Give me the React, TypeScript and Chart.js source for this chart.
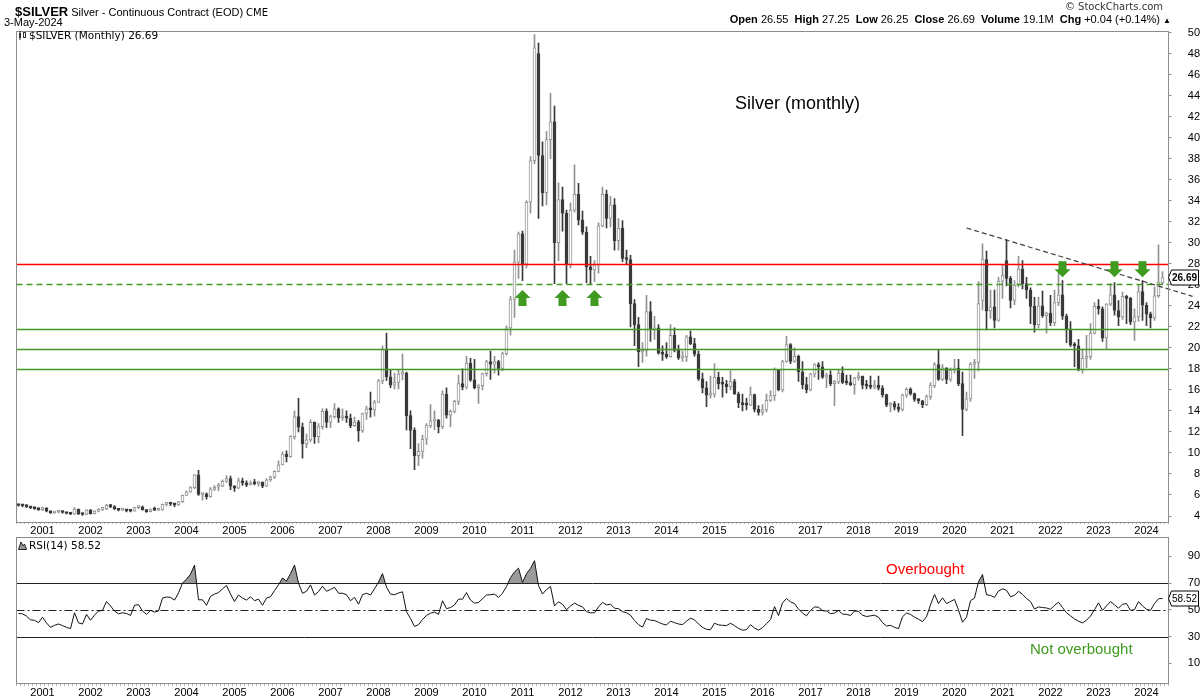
import React, { useEffect, useRef } from 'react';
import { Chart, registerables } from 'chart.js';

Chart.register(...registerables);

// ---------- monthly candles, Jul 2000 .. May 2024 ----------
const opens = [
  5.03, 5.0, 4.98, 4.9, 4.76, 4.7,
  4.6, 4.76, 4.45, 4.3, 4.38, 4.42, 4.33, 4.24, 4.18, 4.66, 4.18, 4.14,
  4.58, 4.23, 4.47, 4.63, 4.65, 5.03, 4.9, 4.7, 4.55, 4.58, 4.5, 4.45,
  4.79, 4.88, 4.6, 4.42, 4.62, 4.55, 4.58, 5.1, 5.15, 5.14, 5.06, 5.36,
  5.96, 6.3, 6.7, 7.92, 6.05, 6.1, 5.85, 6.55, 6.75, 6.85, 7.3, 7.55,
  6.85, 6.65, 7.35, 7.15, 6.95, 7.15, 7.05, 7.2, 6.85, 7.45, 7.7, 8.25,
  8.85, 9.9, 9.65, 11.55, 13.45, 12.45, 10.85, 11.25, 12.9, 11.55, 12.5, 13.95,
  12.9, 13.45, 14.2, 13.35, 13.5, 13.3, 12.6, 12.95, 12.1, 13.75, 14.2, 14.1,
  14.8, 16.85, 19.85, 17.25, 16.45, 16.7, 17.5, 17.6, 13.55, 12.15, 9.75, 10.15,
  11.3, 12.6, 13.05, 13.1, 12.5, 15.6, 13.6, 13.95, 14.9, 16.6, 16.25, 18.55,
  16.95, 16.2, 16.4, 17.55, 18.7, 18.45, 18.7, 18.05, 19.45, 21.9, 24.6, 28.15,
  30.85, 27.95, 33.85, 37.8, 48.0, 38.3, 34.75, 39.8, 41.5, 30.0, 34.1, 32.8,
  27.9, 33.1, 34.6, 32.15, 31.0, 27.7, 27.4, 27.9, 31.6, 34.6, 32.3, 33.6,
  30.2, 31.4, 28.5, 28.4, 24.2, 22.2, 19.6, 19.75, 23.45, 21.7, 21.9, 19.5,
  19.4, 19.15, 21.2, 19.75, 19.05, 19.15, 21.05, 20.4, 19.4, 17.05, 16.2, 15.5,
  15.6, 17.2, 16.6, 16.55, 16.3, 16.8, 15.6, 14.75, 14.6, 14.55, 15.55, 14.15,
  13.85, 14.1, 15.0, 15.45, 17.95, 16.0, 18.7, 20.3, 18.7, 19.2, 17.7, 16.5,
  16.0, 17.5, 18.4, 18.2, 17.2, 17.4, 16.6, 16.75, 17.6, 16.7, 16.68, 16.5,
  17.15, 17.3, 16.45, 16.35, 16.25, 16.45, 16.15, 15.55, 14.55, 14.7, 14.35, 14.15,
  15.5, 16.05, 15.65, 15.1, 14.95, 14.6, 15.35, 16.4, 18.4, 17.0, 18.1, 17.0,
  17.9, 18.05, 16.6, 14.15, 15.15, 18.45, 18.6, 24.5, 28.4, 23.5, 23.9, 22.6,
  26.35, 28.3, 26.6, 24.5, 25.95, 27.5, 26.1, 25.5, 23.95, 22.2, 24.0, 23.05,
  23.3, 22.4, 24.3, 25.05, 23.0, 21.75, 20.3, 20.2, 17.9, 19.0, 19.15, 21.4,
  23.95, 23.7, 20.95, 24.15, 25.05, 23.55, 22.95, 24.9, 24.7, 22.45, 22.95, 25.35,
  24.05, 23.2, 22.85, 24.95, 26.2,
];

const highs = [
  5.1, 5.05, 5.05, 4.95, 4.8, 4.75,
  4.85, 4.8, 4.5, 4.45, 4.55, 4.5, 4.35, 4.3, 4.8, 4.67, 4.28, 4.62,
  4.6, 4.52, 4.7, 4.68, 5.1, 5.12, 5.0, 4.72, 4.7, 4.6, 4.62, 4.84,
  4.98, 4.95, 4.62, 4.68, 4.85, 4.7, 5.15, 5.28, 5.3, 5.2, 5.4, 6.0,
  6.4, 6.8, 7.95, 8.35, 6.2, 6.2, 6.7, 6.9, 7.1, 7.45, 7.85, 7.8,
  6.9, 7.6, 7.6, 7.35, 7.35, 7.5, 7.3, 7.25, 7.55, 7.8, 8.3, 9.25,
  10.1, 10.2, 11.65, 14.0, 15.2, 12.85, 11.8, 13.15, 12.95, 12.8, 14.2, 14.2,
  13.6, 14.7, 14.3, 14.2, 14.0, 13.7, 13.4, 13.1, 13.8, 14.45, 15.8, 15.0,
  17.0, 20.2, 21.4, 17.9, 17.6, 17.9, 19.4, 17.7, 14.0, 12.4, 10.9, 11.7,
  12.8, 14.6, 14.0, 13.2, 15.9, 16.2, 14.1, 15.0, 17.4, 18.0, 19.2, 19.0,
  18.9, 16.5, 17.6, 18.8, 19.7, 19.2, 18.8, 19.6, 22.1, 24.9, 29.3, 31.0,
  31.1, 34.0, 38.2, 49.8, 49.0, 39.6, 40.6, 44.2, 43.0, 35.7, 35.3, 33.1,
  33.8, 37.4, 35.65, 33.0, 31.5, 28.7, 28.3, 31.9, 35.3, 35.0, 34.4, 34.2,
  32.3, 32.1, 29.3, 28.8, 24.6, 22.9, 20.5, 25.0, 24.4, 23.0, 22.2, 20.2,
  20.5, 22.2, 21.9, 20.25, 19.7, 21.2, 21.6, 20.9, 19.7, 17.6, 16.8, 17.3,
  18.5, 17.7, 17.2, 16.9, 17.8, 17.0, 15.8, 15.6, 15.2, 16.3, 15.6, 14.5,
  14.6, 15.6, 15.9, 18.1, 17.95, 18.8, 21.1, 20.4, 20.0, 19.3, 18.7, 17.2,
  17.6, 18.5, 18.6, 18.7, 17.6, 17.8, 16.9, 17.9, 18.2, 17.4, 17.4, 17.2,
  17.7, 17.3, 16.9, 17.3, 16.9, 17.3, 16.4, 15.6, 14.8, 14.9, 14.7, 15.6,
  16.2, 16.2, 15.7, 15.2, 15.0, 15.5, 16.7, 18.6, 19.75, 18.4, 18.1, 18.1,
  18.9, 18.9, 17.7, 15.8, 18.6, 18.9, 26.3, 29.9, 29.2, 25.5, 25.5, 26.7,
  27.9, 30.3, 26.8, 26.4, 28.7, 28.3, 26.7, 25.7, 24.8, 24.8, 25.4, 23.4,
  25.0, 25.5, 27.4, 26.4, 23.2, 22.5, 20.5, 20.8, 19.9, 21.2, 22.3, 24.3,
  24.6, 23.9, 24.2, 26.1, 26.2, 24.5, 25.3, 25.0, 24.8, 23.7, 26.0, 26.4,
  24.3, 23.4, 25.8, 29.8, 27.25,
];

const lows = [
  4.94, 4.87, 4.8, 4.7, 4.63, 4.54,
  4.5, 4.4, 4.25, 4.25, 4.3, 4.28, 4.2, 4.12, 4.16, 4.15, 4.06, 4.12,
  4.18, 4.2, 4.4, 4.5, 4.6, 4.8, 4.6, 4.48, 4.5, 4.4, 4.38, 4.45,
  4.7, 4.55, 4.35, 4.4, 4.5, 4.5, 4.55, 4.95, 4.98, 4.9, 5.0, 5.3,
  5.95, 6.25, 6.6, 5.95, 5.5, 5.6, 5.8, 6.4, 6.4, 6.8, 7.2, 6.5,
  6.35, 6.6, 6.9, 6.8, 6.95, 6.95, 6.85, 6.7, 6.8, 7.3, 7.55, 8.2,
  8.85, 9.15, 9.6, 11.3, 12.0, 9.5, 10.5, 11.05, 10.9, 10.95, 12.25, 12.4,
  12.4, 13.3, 12.9, 13.1, 12.9, 12.4, 12.5, 11.1, 11.95, 13.2, 13.4, 13.5,
  14.8, 16.6, 16.9, 16.2, 16.1, 16.1, 16.95, 12.2, 10.4, 8.4, 8.8, 9.5,
  10.8, 12.4, 12.2, 11.9, 12.3, 13.3, 12.5, 13.8, 14.6, 16.0, 16.1, 16.8,
  16.1, 14.7, 16.0, 17.3, 17.0, 17.6, 17.4, 17.8, 19.3, 21.2, 22.9, 26.6,
  26.4, 27.6, 32.8, 37.5, 32.3, 33.5, 33.6, 38.0, 26.1, 28.3, 31.1, 26.1,
  27.6, 32.9, 31.7, 30.8, 26.2, 26.1, 26.3, 27.1, 31.5, 31.4, 31.5, 29.3,
  29.3, 28.2, 28.0, 22.0, 20.2, 18.2, 18.6, 19.2, 20.6, 20.8, 19.4, 18.8,
  19.0, 19.1, 19.6, 18.9, 18.7, 18.7, 20.3, 19.2, 16.9, 15.7, 14.4, 15.2,
  15.3, 16.1, 15.3, 15.7, 16.0, 15.6, 14.3, 14.0, 14.1, 14.5, 13.9, 13.6,
  13.6, 13.9, 14.9, 15.0, 15.9, 15.8, 18.6, 18.5, 18.6, 16.8, 16.1, 15.7,
  15.9, 17.2, 17.0, 17.1, 16.2, 16.4, 14.5, 16.6, 16.6, 16.5, 16.4, 15.6,
  16.9, 16.1, 16.1, 16.1, 16.1, 16.0, 15.3, 14.4, 13.9, 14.1, 13.9, 14.0,
  15.3, 15.5, 14.9, 14.7, 14.3, 14.5, 15.1, 16.2, 16.9, 16.9, 16.6, 16.8,
  17.6, 16.4, 11.65, 14.0, 14.9, 17.1, 17.8, 23.6, 21.7, 22.8, 21.9, 22.5,
  24.7, 25.9, 23.8, 24.1, 25.8, 25.6, 24.7, 22.3, 21.5, 21.9, 22.9, 21.4,
  22.1, 22.1, 24.0, 22.7, 20.5, 20.1, 18.2, 17.8, 17.6, 18.1, 18.9, 21.3,
  23.2, 20.6, 19.9, 24.0, 23.1, 22.1, 22.7, 22.3, 22.2, 20.7, 22.5, 22.6,
  22.1, 21.9, 22.6, 24.8, 26.0,
];

const closes = [
  5.0, 4.98, 4.9, 4.76, 4.7, 4.6,
  4.76, 4.45, 4.3, 4.38, 4.42, 4.33, 4.24, 4.18, 4.66, 4.18, 4.14, 4.58,
  4.23, 4.47, 4.63, 4.65, 5.03, 4.9, 4.7, 4.55, 4.58, 4.5, 4.45, 4.79,
  4.88, 4.6, 4.42, 4.62, 4.55, 4.58, 5.1, 5.15, 5.14, 5.06, 5.36, 5.96,
  6.3, 6.7, 7.92, 6.05, 6.1, 5.85, 6.55, 6.75, 6.85, 7.3, 7.55, 6.85,
  6.65, 7.35, 7.15, 6.95, 7.15, 7.05, 7.2, 6.85, 7.45, 7.7, 8.25, 8.85,
  9.9, 9.65, 11.55, 13.45, 12.45, 10.85, 11.25, 12.9, 11.55, 12.5, 13.95, 12.9,
  13.45, 14.2, 13.35, 13.5, 13.3, 12.6, 12.95, 12.1, 13.75, 14.2, 14.1, 14.8,
  16.85, 19.85, 17.25, 16.45, 16.7, 17.5, 17.6, 13.55, 12.15, 9.75, 10.15, 11.3,
  12.6, 13.05, 13.1, 12.5, 15.6, 13.6, 13.95, 14.9, 16.6, 16.25, 18.55, 16.95,
  16.2, 16.4, 17.55, 18.7, 18.45, 18.7, 18.05, 19.45, 21.9, 24.6, 28.15, 30.85,
  27.95, 33.85, 37.8, 48.55, 38.3, 34.75, 39.8, 41.5, 30.0, 34.1, 32.8, 27.9,
  33.1, 34.6, 32.15, 31.0, 27.7, 27.4, 27.9, 31.6, 34.6, 32.3, 33.6, 30.2,
  31.4, 28.5, 28.4, 24.2, 22.2, 19.6, 19.75, 23.45, 21.7, 21.9, 19.5, 19.4,
  19.15, 21.2, 19.75, 19.05, 19.15, 21.05, 20.4, 19.4, 17.05, 16.2, 15.5, 15.6,
  17.2, 16.6, 16.55, 16.3, 16.8, 15.6, 14.75, 14.6, 14.55, 15.55, 14.15, 13.85,
  14.1, 15.0, 15.45, 17.95, 16.0, 18.7, 20.3, 18.7, 19.2, 17.7, 16.5, 16.0,
  17.5, 18.4, 18.2, 17.2, 17.4, 16.6, 16.75, 17.6, 16.7, 16.68, 16.5, 17.15,
  17.3, 16.45, 16.35, 16.25, 16.45, 16.15, 15.55, 14.55, 14.7, 14.35, 14.15, 15.5,
  16.05, 15.65, 15.1, 14.95, 14.6, 15.35, 16.4, 18.4, 17.0, 18.1, 17.0, 17.9,
  18.05, 16.6, 14.15, 15.15, 18.45, 18.6, 24.2, 28.45, 23.5, 23.9, 22.6, 26.35,
  26.9, 26.6, 24.5, 25.95, 27.5, 26.1, 25.5, 23.95, 22.2, 24.0, 23.05, 23.3,
  22.4, 24.3, 25.05, 23.0, 21.75, 20.3, 20.2, 17.9, 19.0, 19.15, 21.4, 23.95,
  23.7, 20.95, 24.15, 25.05, 23.55, 22.95, 24.9, 24.7, 22.45, 22.95, 25.35, 24.05,
  23.2, 22.85, 24.95, 26.2, 26.69,
];

// ---------- RSI(14), one value per month ----------
const rsiValues = [
  47.3, 47.0, 45.3, 42.5, 42.2, 40.4,
  44.5, 40.2, 36.9, 38.4, 39.4, 38.2, 36.9, 35.9, 47.8, 40.2, 39.4, 46.6,
  42.2, 46.0, 49.1, 49.6, 56.2, 52.9, 49.1, 47.0, 47.8, 47.3, 45.8, 53.4,
  53.9, 49.1, 46.6, 49.6, 48.3, 49.1, 58.8, 59.6, 59.3, 57.3, 62.6, 70.0,
  73.0, 76.6, 83.5, 57.5, 57.5, 53.4, 60.1, 61.8, 62.9, 65.7, 68.2, 61.8,
  56.2, 61.1, 58.8, 57.3, 59.8, 56.8, 58.0, 53.4, 58.8, 59.8, 64.4, 68.7,
  73.8, 71.5, 77.1, 83.5, 70.0, 62.4, 63.9, 68.7, 61.1, 63.6, 67.7, 63.9,
  65.2, 66.9, 62.4, 62.4, 61.3, 56.8, 59.3, 54.2, 61.3, 62.4, 61.1, 65.7,
  70.8, 77.1, 66.9, 61.8, 61.3, 62.6, 63.5, 48.6, 43.5, 37.6, 38.9, 42.7,
  45.8, 47.5, 48.3, 46.6, 56.8, 50.9, 51.7, 53.7, 58.0, 58.0, 62.9, 57.3,
  55.0, 55.5, 58.3, 61.1, 61.3, 61.8, 59.3, 62.4, 67.5, 74.1, 78.4, 81.2,
  70.5, 77.1, 81.0, 86.8, 68.2, 61.8, 65.2, 67.5, 52.9, 56.0, 54.2, 50.1,
  52.9, 55.0, 53.4, 52.2, 48.6, 47.8, 47.8, 52.2, 55.5, 53.7, 54.2, 51.2,
  50.9, 48.6, 47.8, 46.0, 42.0, 38.9, 37.1, 43.5, 42.2, 42.0, 40.7, 39.4,
  38.7, 41.5, 40.4, 39.4, 38.9, 41.5, 43.8, 42.5, 39.4, 36.9, 35.4, 35.1,
  40.0, 38.7, 38.4, 38.2, 40.0, 38.2, 36.1, 34.8, 35.1, 38.9, 36.4, 34.8,
  36.6, 39.7, 42.7, 52.4, 45.8, 55.2, 58.5, 56.0, 54.7, 50.6, 47.6, 45.5,
  49.6, 52.2, 51.9, 49.4, 49.1, 47.1, 47.6, 49.6, 46.8, 46.6, 45.8, 49.1,
  48.9, 46.0, 45.0, 45.5, 46.0, 44.5, 40.4, 37.9, 38.4, 36.9, 35.9, 44.8,
  47.6, 46.6, 44.5, 43.0, 41.2, 44.8, 53.7, 61.6, 54.7, 59.0, 54.7, 56.2,
  57.8, 49.9, 40.7, 44.5, 56.8, 58.8, 71.0, 76.4, 61.3, 60.8, 59.3, 64.1,
  65.7, 64.6, 59.8, 60.8, 63.9, 61.6, 58.5, 56.2, 50.6, 52.2, 51.7, 51.4,
  50.4, 53.4, 55.7, 51.7, 47.8, 45.5, 43.2, 41.5, 40.2, 42.2, 45.3, 50.1,
  55.2, 49.6, 52.9, 56.2, 53.7, 51.2, 54.2, 54.7, 49.6, 50.1, 56.2, 52.9,
  50.4, 49.6, 54.7, 58.3, 58.52,
];

// ---------- axes / annotation values ----------
const priceTicks = [4, 6, 8, 10, 12, 14, 16, 18, 20, 22, 24, 26, 28, 30, 32, 34, 36, 38, 40, 42, 44, 46, 48, 50];
const rsiTicks = [10, 30, 50, 70, 90];
const redLevel = 28;
const greenDashedLevel = 26.05;
const greenLevels = [21.8, 19.9, 18.0];
const trendStart = [237, 31.4];
const trendEnd = [293.5, 24.9];
const upArrowMonths = [126, 136, 144];
const upArrowTip = 25.5;
const downArrowMonths = [261, 274, 281];
const downArrowTip = 26.72;
const rsiOverbought = 70;
const rsiMid = 50;
const rsiOversold = 30;

const START_YEAR = 2000;
const START_MONTH = 6; // July, zero based

const monthLabels: string[] = closes.map((_, k) => {
  const t = START_MONTH + k;
  return `${START_YEAR + Math.floor(t / 12)}-${String((t % 12) + 1).padStart(2, '0')}`;
});
monthLabels.push('pad');

const FONT = '"Liberation Sans", Arial, sans-serif';
const VFONT = '"DejaVu Sans", Verdana, sans-serif';
const UP_EDGE = '#939393';
const DOWN_FILL = '#3a3a3a';
const GREEN = '#3f9a1f';
const BORDER = '#8c8c8c';

const isUp = closes.map((c, k) => c >= opens[k]);

function xAxis(h: number) {
  return {
    type: 'category' as const,
    offset: true,
    grid: { display: true, drawOnChartArea: false, drawTicks: true, tickLength: 2, color: '#b4b4b4', offset: true },
    border: { display: false },
    ticks: {
      autoSkip: false,
      maxRotation: 0,
      minRotation: 0,
      padding: 0,
      color: '#000',
      font: { size: 11, family: FONT },
      callback: (_v: any, i: number) => {
        const l = monthLabels[i];
        return l && l.endsWith('-01') ? l.slice(0, 4) : '';
      },
    },
    afterFit: (s: any) => {
      s.height = h;
      s.paddingLeft = 0;
      s.paddingRight = 0;
    },
  };
}

function yAxis(min: number, max: number, tickVals: number[]) {
  return {
    type: 'linear' as const,
    position: 'right' as const,
    min,
    max,
    afterBuildTicks: (s: any) => {
      s.ticks = tickVals.map((v) => ({ value: v }));
    },
    afterFit: (s: any) => {
      s.width = 31.5;
      s.paddingTop = 0;
      s.paddingBottom = 0;
    },
    grid: { display: true, drawOnChartArea: false, drawTicks: true, tickLength: 3, color: BORDER },
    border: { display: false },
    ticks: {
      padding: 1,
      crossAlign: 'far' as const,
      color: '#000',
      font: { size: 11, family: FONT },
      callback: (v: any) => String(v),
    },
  };
}

function drawCallout(ctx: CanvasRenderingContext2D, left: number, py: number, text: string, bold: boolean) {
  const h = 7.5;
  const x0 = left;
  const right = 1198.5;
  const cy = Math.round(py) + 0.5;
  ctx.save();
  ctx.setLineDash([]);
  ctx.beginPath();
  ctx.moveTo(x0, cy);
  ctx.lineTo(x0 + 3, cy - h);
  ctx.lineTo(right, cy - h);
  ctx.lineTo(right, cy + h);
  ctx.lineTo(x0 + 3, cy + h);
  ctx.closePath();
  ctx.fillStyle = '#fff';
  ctx.fill();
  ctx.strokeStyle = '#000';
  ctx.lineWidth = 1;
  ctx.stroke();
  ctx.fillStyle = '#000';
  ctx.font = `${bold ? 'bold ' : ''}10px ${FONT}`;
  ctx.textAlign = 'right';
  ctx.textBaseline = 'middle';
  ctx.fillText(text, right - 1.5, cy + 0.5);
  ctx.restore();
}

const mainOverlay = {
  id: 'mainOverlay',
  afterDatasetsDraw(chart: any) {
    const { ctx, chartArea: a, scales } = chart;
    const x = scales.x;
    const y = scales.y;
    ctx.save();
    const hline = (v: number, color: string, dash: number[], w: number) => {
      const py = Math.round(y.getPixelForValue(v)) + 0.5;
      ctx.beginPath();
      ctx.setLineDash(dash);
      ctx.strokeStyle = color;
      ctx.lineWidth = w;
      ctx.moveTo(a.left, py);
      ctx.lineTo(a.right, py);
      ctx.stroke();
    };
    greenLevels.forEach((v) => hline(v, GREEN, [], 1.5));
    hline(greenDashedLevel, GREEN, [6, 4], 1.5);
    hline(redLevel, '#ff0000', [], 1.5);

    // trend line
    ctx.beginPath();
    ctx.setLineDash([5, 3]);
    ctx.strokeStyle = '#404040';
    ctx.lineWidth = 1.2;
    ctx.moveTo(x.getPixelForValue(trendStart[0]), y.getPixelForValue(trendStart[1]));
    ctx.lineTo(x.getPixelForValue(trendEnd[0]), y.getPixelForValue(trendEnd[1]));
    ctx.stroke();
    ctx.setLineDash([]);

    // arrows
    ctx.fillStyle = GREEN;
    upArrowMonths.forEach((m) => {
      const cx = x.getPixelForValue(m);
      const ty = y.getPixelForValue(upArrowTip);
      ctx.beginPath();
      ctx.moveTo(cx, ty);
      ctx.lineTo(cx + 8, ty + 8);
      ctx.lineTo(cx + 4, ty + 8);
      ctx.lineTo(cx + 4, ty + 16);
      ctx.lineTo(cx - 4, ty + 16);
      ctx.lineTo(cx - 4, ty + 8);
      ctx.lineTo(cx - 8, ty + 8);
      ctx.closePath();
      ctx.fill();
    });
    downArrowMonths.forEach((m) => {
      const cx = x.getPixelForValue(m);
      const ty = y.getPixelForValue(downArrowTip);
      ctx.beginPath();
      ctx.moveTo(cx, ty);
      ctx.lineTo(cx + 8, ty - 8);
      ctx.lineTo(cx + 4, ty - 8);
      ctx.lineTo(cx + 4, ty - 16);
      ctx.lineTo(cx - 4, ty - 16);
      ctx.lineTo(cx - 4, ty - 8);
      ctx.lineTo(cx - 8, ty - 8);
      ctx.closePath();
      ctx.fill();
    });
    ctx.restore();
  },
  afterDraw(chart: any) {
    const { ctx, chartArea: a, scales } = chart;
    ctx.save();
    ctx.strokeStyle = BORDER;
    ctx.lineWidth = 1;
    ctx.setLineDash([]);
    ctx.strokeRect(Math.floor(a.left) + 0.5, Math.floor(a.top) + 0.5, Math.round(a.right - a.left), Math.round(a.bottom - a.top));
    ctx.restore();
    const last = closes[closes.length - 1];
    drawCallout(ctx, Math.floor(a.right) + 0.5, scales.y.getPixelForValue(last), last.toFixed(2), true);
  },
};

const rsiOverlay = {
  id: 'rsiOverlay',
  beforeDatasetsDraw(chart: any) {
    const { ctx, chartArea: a, scales } = chart;
    const y = scales.y;
    ctx.save();
    ctx.strokeStyle = '#222';
    ctx.lineWidth = 1;
    [rsiOverbought, rsiOversold].forEach((v) => {
      const py = Math.round(y.getPixelForValue(v)) + 0.5;
      ctx.beginPath();
      ctx.setLineDash([]);
      ctx.moveTo(a.left, py);
      ctx.lineTo(a.right, py);
      ctx.stroke();
    });
    const pm = Math.round(y.getPixelForValue(rsiMid)) + 0.5;
    ctx.beginPath();
    ctx.setLineDash([8, 3, 2, 3]);
    ctx.moveTo(a.left, pm);
    ctx.lineTo(a.right, pm);
    ctx.stroke();
    ctx.restore();
  },
  afterDraw(chart: any) {
    const { ctx, chartArea: a, scales } = chart;
    ctx.save();
    ctx.strokeStyle = BORDER;
    ctx.lineWidth = 1;
    ctx.setLineDash([]);
    ctx.strokeRect(Math.floor(a.left) + 0.5, Math.floor(a.top) + 0.5, Math.round(a.right - a.left), Math.round(a.bottom - a.top) - 1);
    ctx.restore();
    const last = rsiValues[rsiValues.length - 1];
    drawCallout(ctx, Math.floor(a.right) + 0.5, scales.y.getPixelForValue(last), last.toFixed(2), false);
  },
};

export default function App() {
  const mainRef = useRef<HTMLCanvasElement>(null);
  const rsiRef = useRef<HTMLCanvasElement>(null);

  useEffect(() => {
    Chart.defaults.font.family = FONT;
    const bodyData = opens.map((o, k) => [o, closes[k]]);
    const wickData = lows.map((l, k) => [l, highs[k]]);

    const main = new Chart(mainRef.current as HTMLCanvasElement, {
      type: 'bar',
      data: {
        labels: monthLabels,
        datasets: [
          {
            label: 'body',
            data: bodyData as any,
            backgroundColor: isUp.map((u) => (u ? '#ffffff' : DOWN_FILL)),
            borderColor: isUp.map((u) => (u ? UP_EDGE : DOWN_FILL)),
            borderWidth: 1,
            borderSkipped: false,
            barThickness: 3,
            minBarLength: 2,
            grouped: false,
            order: 0,
          } as any,
          {
            label: 'wick',
            data: wickData as any,
            backgroundColor: isUp.map((u) => (u ? UP_EDGE : DOWN_FILL)),
            borderWidth: 0,
            barThickness: 1,
            grouped: false,
            order: 1,
          } as any,
        ],
      },
      options: {
        animation: false,
        responsive: false,
        maintainAspectRatio: false,
        layout: { padding: { left: 16.5, top: 31, right: 0, bottom: 0 } },
        plugins: { legend: { display: false }, tooltip: { enabled: false } },
        scales: {
          x: xAxis(15) as any,
          y: yAxis(3.43, 50.14, priceTicks) as any,
        },
      },
      plugins: [mainOverlay],
    });

    const rsi = new Chart(rsiRef.current as HTMLCanvasElement, {
      type: 'line',
      data: {
        labels: monthLabels,
        datasets: [
          {
            label: 'RSI(14)',
            data: rsiValues,
            borderColor: '#111',
            borderWidth: 1,
            pointRadius: 0,
            tension: 0,
            fill: { target: { value: rsiOverbought }, above: '#9a9a9a', below: 'rgba(0,0,0,0)' },
          } as any,
        ],
      },
      options: {
        animation: false,
        responsive: false,
        maintainAspectRatio: false,
        layout: { padding: { left: 16.5, top: 0, right: 0, bottom: 0 } },
        plugins: { legend: { display: false }, tooltip: { enabled: false } },
        scales: {
          x: xAxis(16) as any,
          y: yAxis(-5.5, 104.5, rsiTicks) as any,
        },
      },
      plugins: [rsiOverlay],
    });

    return () => {
      main.destroy();
      rsi.destroy();
    };
  }, []);

  const abs = (s: React.CSSProperties): React.CSSProperties => ({ position: 'absolute', whiteSpace: 'nowrap', ...s });

  return (
    <div style={{ position: 'fixed', left: 0, top: 0, width: 1200, height: 700, background: '#fff', overflow: 'hidden' }}>
      <canvas ref={mainRef} width={1200} height={537} style={{ position: 'absolute', left: 0, top: 0, width: 1200, height: 537 }} />
      <canvas ref={rsiRef} width={1200} height={163} style={{ position: 'absolute', left: 0, top: 537, width: 1200, height: 163 }} />

      <div style={abs({ left: 15, top: 3, height: 16, lineHeight: '16px', color: '#000' })}>
        <span style={{ font: `bold 13px ${FONT}` }}>$SILVER</span>
        <span style={{ font: `11px ${FONT}` }}> Silver - Continuous Contract (EOD) </span>
        <span style={{ font: `10px ${VFONT}` }}>CME</span>
      </div>
      <div style={abs({ left: 4, top: 16, lineHeight: '13px', font: `11px ${FONT}`, color: '#000' })}>3-May-2024</div>

      <div style={abs({ right: 37, top: 1, lineHeight: '14px', font: `10px ${VFONT}`, color: '#333' })}>© StockCharts.com</div>
      <div style={abs({ right: 29, top: 13, lineHeight: '14px', font: `11px ${FONT}`, color: '#000' })}>
        <b>Open</b> 26.55&nbsp; <b>High</b> 27.25&nbsp; <b>Low</b> 26.25&nbsp; <b>Close</b> 26.69&nbsp; <b>Volume</b> 19.1M&nbsp;{' '}
        <b>Chg</b> +0.04 (+0.14%) <span style={{ fontSize: 8 }}>▲</span>
      </div>

      <div style={abs({ left: 18, top: 29, lineHeight: '14px', font: `10.5px ${VFONT}`, color: '#000', display: 'flex', alignItems: 'center' })}>
        <svg width="9" height="9" style={{ marginRight: 2 }}>
          <rect x="1" y="2" width="2" height="5" fill="#333" />
          <line x1="2" y1="0" x2="2" y2="9" stroke="#333" strokeWidth="1" />
          <rect x="5.5" y="1.5" width="2" height="5" fill="#fff" stroke="#333" strokeWidth="1" />
        </svg>
        <span>$SILVER (Monthly) 26.69</span>
      </div>

      <div style={abs({ left: 735, top: 93, lineHeight: '20px', font: `18px ${FONT}`, color: '#000' })}>Silver (monthly)</div>

      <div style={abs({ left: 18, top: 539, lineHeight: '14px', font: `10.5px ${VFONT}`, color: '#000', display: 'flex', alignItems: 'center' })}>
        <svg width="9" height="9" style={{ marginRight: 2 }}>
          <path d="M0.5 8.5 L3 1 L5 5 L6.5 3 L8.5 8.5 Z" fill="#999" stroke="#222" strokeWidth="1" />
        </svg>
        <span>RSI(14) 58.52</span>
      </div>

      <div style={abs({ left: 886, top: 560, lineHeight: '17px', font: `15px ${FONT}`, color: '#ff0000' })}>Overbought</div>
      <div style={abs({ left: 1030, top: 640, lineHeight: '17px', font: `15px ${FONT}`, color: GREEN })}>Not overbought</div>
    </div>
  );
}
